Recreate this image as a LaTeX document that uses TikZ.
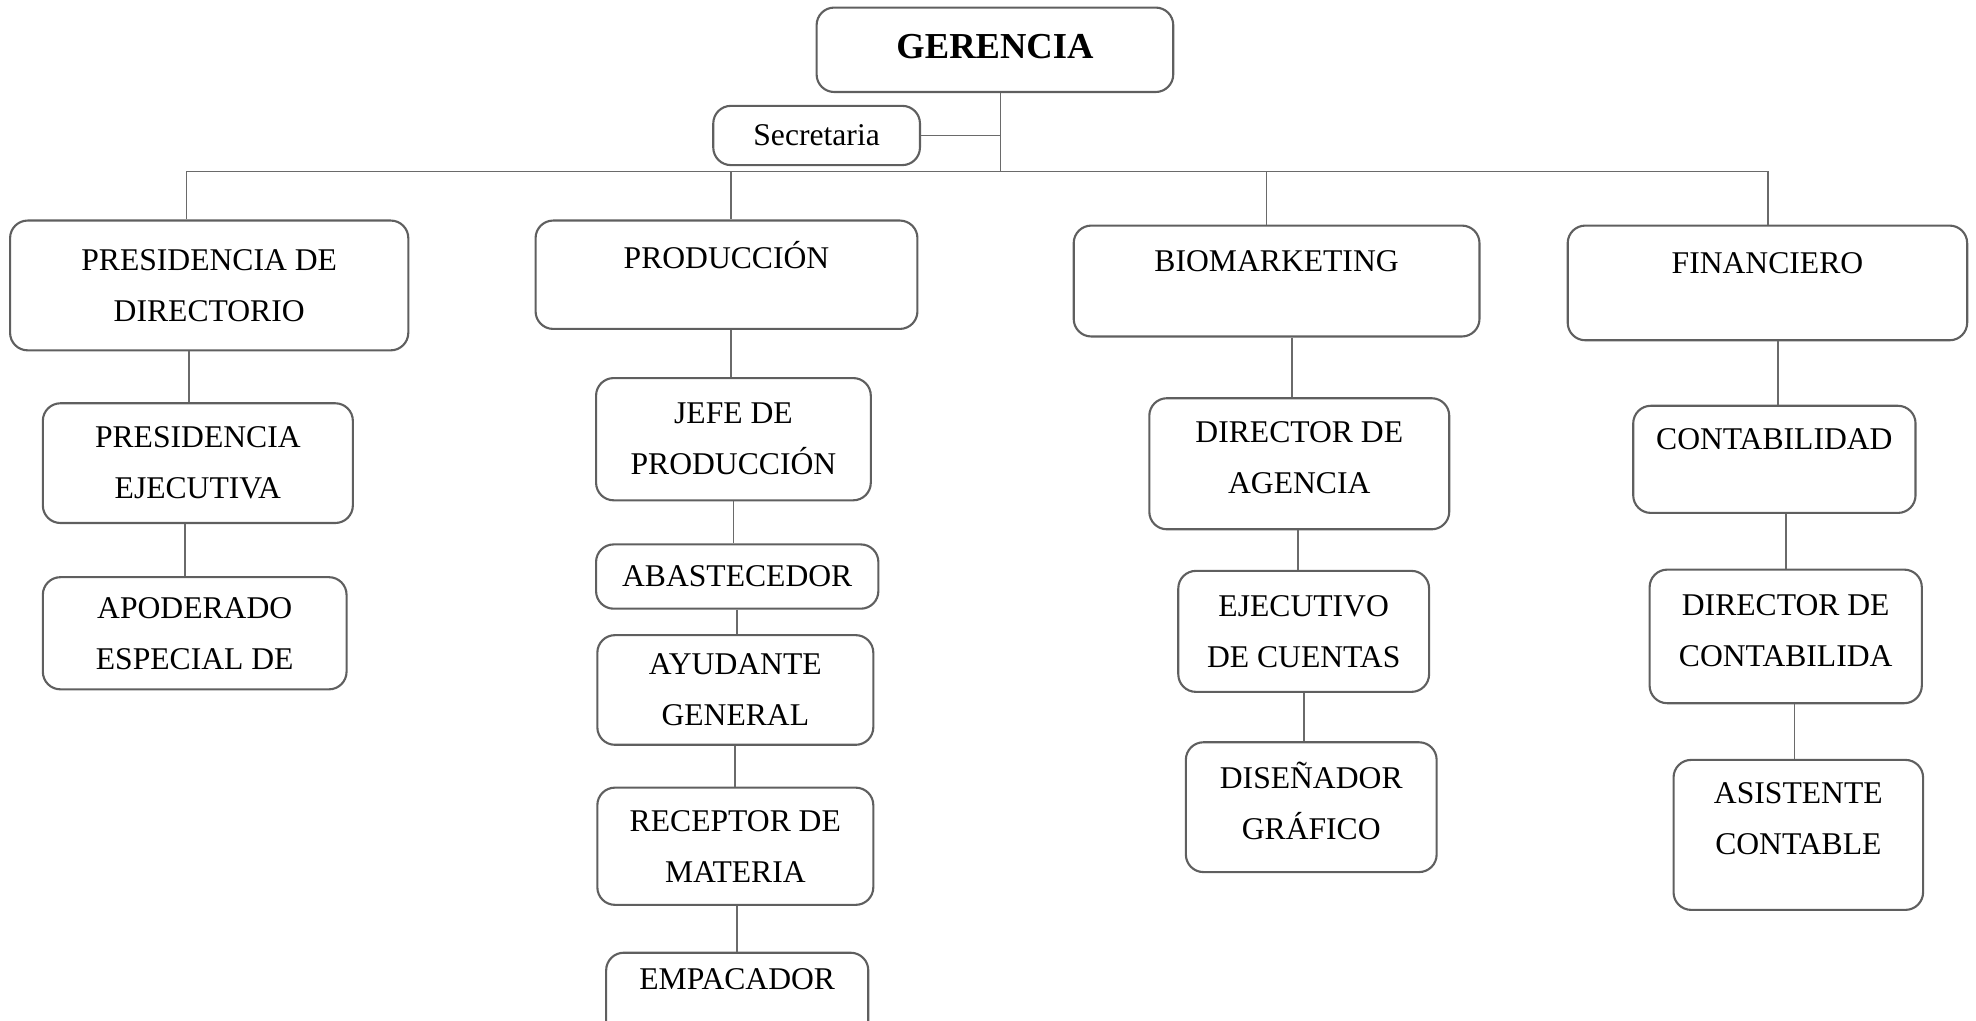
\documentclass[tikz,border=0pt]{standalone}
\usepackage{fontspec}
\setmainfont{Liberation Serif}

\definecolor{borde}{HTML}{5F5F5F}
\definecolor{gris}{HTML}{6A6A6A}

\def\myunit{0.0126cm}

\tikzset{
  caja/.style={draw=borde, line width=0.6pt, rounded corners=5pt,
    align=center, inner sep=0pt, font=\fontsize{9}{14.5}\selectfont},
  conector/.style={draw=gris, line width=0.5pt}
}

\begin{document}
\begin{tikzpicture}[x=\myunit, y=-\myunit]
    \clip (0,0) rectangle (1568,810);

    % cajas: nombre/x/y/ancho/alto/texto
    \node[caja, font=\fontsize{10.4}{13}\selectfont\bfseries, text depth=2pt,
      minimum width=283*\myunit, minimum height=67*\myunit] (ger) at (789.5,39.5) {GERENCIA};
    \foreach \name/\x/\y/\w/\h/\txt in {
        sec/648/107.5/164/47/{Secretaria},
        pdir/166/226.5/316/103/{PRESIDENCIA DE\\DIRECTORIO},
        prod/576.5/218/303/86/{PRODUCCIÓN\\[-3pt]\mbox{}},
        biom/1013/223/322/88/{BIOMARKETING\\[-3pt]\mbox{}},
        fin/1402.5/224.5/317/91/{FINANCIERO\\[-3pt]\mbox{}},
        pej/157/367.5/246/95/{PRESIDENCIA\\EJECUTIVA},
        apod/154.5/502.5/241/89/{APODERADO\\ESPECIAL DE},
        jefe/582/348.5/218/97/{JEFE DE\\PRODUCCIÓN},
        abas/585/457.5/224/51/{ABASTECEDOR},
        ayud/583.5/547.5/219/87/{AYUDANTE\\GENERAL},
        recep/583.5/671.5/219/93/{RECEPTOR DE\\MATERIA},
        empa/585/793/208/74/{EMPACADOR\\[-3pt]\mbox{}},
        dag/1031/368/238/104/{DIRECTOR DE\\AGENCIA\\[-11pt]\mbox{}},
        ejec/1034.5/501/199/96/{EJECUTIVO\\DE CUENTAS},
        dis/1040.5/640.5/199/103/{DISEÑADOR\\GRÁFICO\\[-11pt]\mbox{}},
        cont/1408/364.5/224/85/{CONTABILIDAD\\[-3pt]\mbox{}},
        dcont/1417/505/216/106/{DIRECTOR DE\\CONTABILIDA\\[-11pt]\mbox{}},
        asis/1427/662.5/198/119/{ASISTENTE\\CONTABLE\\[-5pt]\mbox{}}} {
      \node[caja, minimum width=\w*\myunit, minimum height=\h*\myunit] (\name) at (\x,\y) {\txt};
    }

    % barra horizontal
    \coordinate (bger) at (794,136);
    \coordinate (bizq) at (148,136);
    \coordinate (bder) at (1403,136);
    \draw[conector] (794,0 |- ger.south) -- (bger);
    \draw[conector] (sec.east) -- (sec.east -| bger);
    \draw[conector] (bizq) -- (bder);

    % bajadas a las areas
    \foreach \x/\b in {148/pdir, 580/prod, 1005/biom, 1403/fin}
      \draw[conector] (\x,136) -- (\x,0 |- \b.north);

    % lineas entre cargos
    \foreach \a/\b/\x in {pdir/pej/150, pej/apod/147, prod/jefe/580, jefe/abas/582,
        abas/ayud/585, ayud/recep/583, recep/empa/585, biom/dag/1025,
        dag/ejec/1030, ejec/dis/1035, fin/cont/1411, cont/dcont/1417, dcont/asis/1424}
      \draw[conector] (\x,0 |- \a.south) -- (\x,0 |- \b.north);
\end{tikzpicture}
\end{document}
